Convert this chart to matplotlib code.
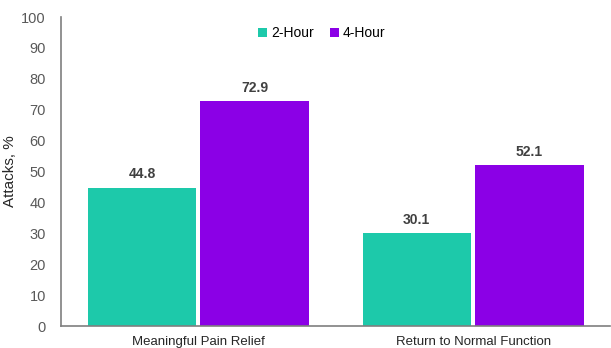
import numpy as np
import matplotlib
matplotlib.use("Agg")
import matplotlib.pyplot as plt

# Data
categories = ["Meaningful Pain Relief", "Return to Normal Function"]
series_names = ["2-Hour", "4-Hour"]
values_2h = [44.8, 30.1]
values_4h = [72.9, 52.1]

TEAL = "#1DC9AA"
PURPLE = "#8B00E6"
GRAY = "#595959"

plt.rcParams["font.family"] = ["Liberation Sans", "DejaVu Sans"]

fig = plt.figure(figsize=(6.11, 3.48), dpi=100)
ax = fig.add_axes([0.1, 0.063, 0.899, 0.888])

x = np.arange(len(categories))
width = 0.395
offset = 0.205

bars1 = ax.bar(x - offset, values_2h, width, color=TEAL, label=series_names[0])
bars2 = ax.bar(x + offset, values_4h, width, color=PURPLE, label=series_names[1])

for bars in (bars1, bars2):
    for b in bars:
        ax.text(b.get_x() + b.get_width() / 2, b.get_height() + 2.0,
                f"{b.get_height():.1f}", ha="center", va="bottom",
                fontsize=10, fontweight="bold", color="#404040")

ax.set_xlim(-0.5, 1.5)
ax.set_ylim(0, 100)
ax.set_yticks(range(0, 101, 10))
ax.set_xticks(x)
ax.set_xticklabels(categories)
ax.tick_params(axis="y", length=0, labelsize=10.5, labelcolor=GRAY, pad=11)
ax.tick_params(axis="x", length=0, labelsize=9.5, labelcolor="#262626", pad=7)
ax.set_ylabel("Attacks, %", fontsize=11, color="#262626")
ax.yaxis.set_label_coords(-0.08, 0.5)

for s in ("top", "right"):
    ax.spines[s].set_visible(False)
for s in ("left", "bottom"):
    ax.spines[s].set_color("#7f7f7f")
    ax.spines[s].set_linewidth(1.2)

ax.legend(loc="upper center", bbox_to_anchor=(0.475, 1.01), ncol=2, frameon=False,
          fontsize=10, handlelength=0.6, handleheight=0.6, handletextpad=0.3,
          columnspacing=1.2)

fig.savefig("out.png", dpi=100, facecolor="white")
